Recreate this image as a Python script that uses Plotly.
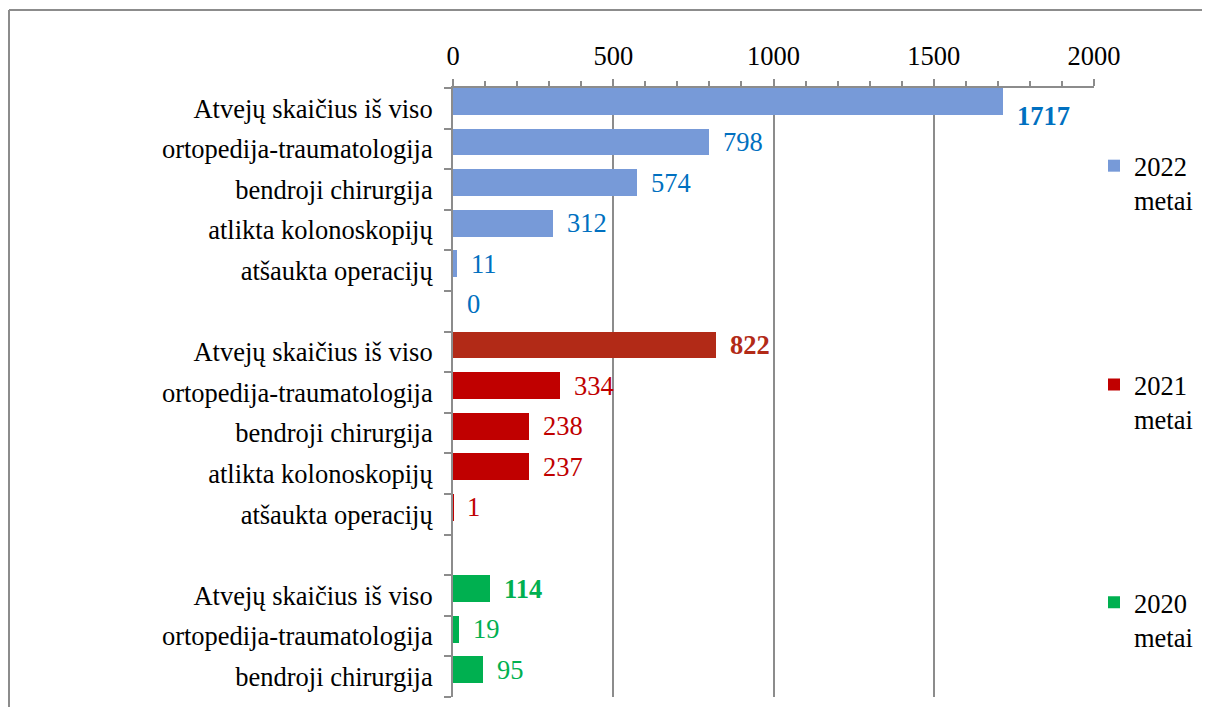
import plotly.graph_objects as go

# ---- data ----
categories = [
    "Atvejų skaičius iš viso", "ortopedija-traumatologija", "bendroji chirurgija",
    "atlikta kolonoskopijų", "atšaukta operacijų", "",
    "Atvejų skaičius iš viso", "ortopedija-traumatologija", "bendroji chirurgija",
    "atlikta kolonoskopijų", "atšaukta operacijų", "",
    "Atvejų skaičius iš viso", "ortopedija-traumatologija", "bendroji chirurgija",
]
series_names = ["2022<br>metai", "2021<br>metai", "2020<br>metai"]
values_2022 = [1717, 798, 574, 312, 11, 0, None, None, None, None, None, None, None, None, None]
values_2021 = [None, None, None, None, None, None, 822, 334, 238, 237, 1, None, None, None, None]
values_2020 = [None, None, None, None, None, None, None, None, None, None, None, None, 114, 19, 95]
x_ticks = [0, 500, 1000, 1500, 2000]

# ---- style ----
FONT = "Liberation Serif, Times New Roman, serif"
FS = 26.5
GRAY = "#8c8c8c"
bar_colors = ["#779ad8", "#c00000", "#00b050"]
total_bar_colors = ["#779ad8", "#b22a17", "#00b050"]
label_colors = ["#0070c0", "#c00000", "#00b050"]
total_label_colors = ["#0070c0", "#b22a17", "#00b050"]
BAR_W = 0.66
BAR_OFF = -0.5

rows = list(range(len(categories)))
all_series = [values_2022, values_2021, values_2020]

fig = go.Figure()
annotations = []
legend_ids = ["legend", "legend2", "legend3"]
for si, vals in enumerate(all_series):
    first = next(i for i, v in enumerate(vals) if v is not None)
    colors = [total_bar_colors[si] if i == first else bar_colors[si] for i in rows]
    fig.add_trace(go.Bar(
        y=rows, x=vals, orientation="h", name=series_names[si],
        width=BAR_W, offset=BAR_OFF,
        marker=dict(color=colors, line=dict(width=0)),
        legend=legend_ids[si], hoverinfo="x+y",
    ))
    for i, v in enumerate(vals):
        if v is None:
            continue
        is_total = i == first
        txt = f"<b>{v}</b>" if is_total else str(v)
        annotations.append(dict(
            x=v, y=i + BAR_OFF + BAR_W / 2, xref="x", yref="y",
            text=txt, showarrow=False, xanchor="left", yanchor="middle",
            xshift=12, yshift=(-15 if (is_total and si == 0) else 0),
            font=dict(family=FONT, size=FS,
                      color=total_label_colors[si] if is_total else label_colors[si]),
        ))

# geometry: page has an 8px body margin, so figure coords = screen coords - 8
OFF = 8
W, H = 1210 - OFF, 715 - 2 * OFF
L, T = 453 - OFF, 88 - OFF
R = W - (1094 - OFF)
B = H - (697.5 - OFF)
pw, ph = W - L - R, H - T - B
def px(sx):
    return (sx - OFF - L) / pw
def py(sy):
    return (H - B - (sy - OFF)) / ph

legend_common = dict(
    font=dict(family=FONT, size=FS, color="black"),
    bgcolor="rgba(0,0,0,0)", valign="top",
    xanchor="left", yanchor="top", itemclick=False, itemdoubleclick=False,
    tracegroupgap=0,
)
lx = px(1094)
fig.update_layout(
    legend=dict(x=lx, y=py(142), **legend_common),
    legend2=dict(x=lx, y=py(361), **legend_common),
    legend3=dict(x=lx, y=py(579), **legend_common),
)

frame = dict(type="line", xref="paper", yref="paper",
             line=dict(color=GRAY, width=2), layer="above")

fig.update_layout(
    width=W, height=H, autosize=False,
    margin=dict(l=L, r=R, t=T, b=B, pad=0),
    paper_bgcolor="white", plot_bgcolor="white",
    barmode="overlay", bargap=0,
    showlegend=True,
    font=dict(family=FONT, size=FS, color="black"),
    annotations=annotations,
    xaxis=dict(
        side="top", range=[0, 2000], tickvals=x_ticks, ticktext=[str(t) for t in x_ticks],
        ticks="outside", ticklen=7, tickwidth=1.5, tickcolor=GRAY,
        minor=dict(ticks="outside", dtick=100, tick0=0, ticklen=5, tickwidth=1.5,
                   tickcolor=GRAY, showgrid=False),
        showline=True, linecolor=GRAY, linewidth=2,
        showgrid=True, gridcolor=GRAY, gridwidth=1.5, zeroline=False,
        tickfont=dict(family=FONT, size=FS, color="black"),
        fixedrange=True, ticklabelstandoff=3, automargin=False,
    ),
    yaxis=dict(
        range=[len(categories) - 0.5, -0.5], tickmode="array", tickvals=rows,
        ticktext=categories, ticks="",
        minor=dict(ticks="outside", tickmode="array",
                   tickvals=[r - 0.5 for r in rows] + [len(rows) - 0.5],
                   ticklen=7, tickwidth=1.5, tickcolor=GRAY, showgrid=False),
        showline=True, linecolor=GRAY, linewidth=2, showgrid=False, zeroline=False,
        tickfont=dict(family=FONT, size=FS, color="black"),
        fixedrange=True, ticklabelstandoff=13, automargin=False,
    ),
    shapes=[
        dict(frame, x0=px(9), x1=px(1209), y0=py(10), y1=py(10)),
        dict(frame, x0=px(9), x1=px(9), y0=py(10), y1=py(714)),
    ],
)

fig.write_html("out.html", config={"displayModeBar": False})
